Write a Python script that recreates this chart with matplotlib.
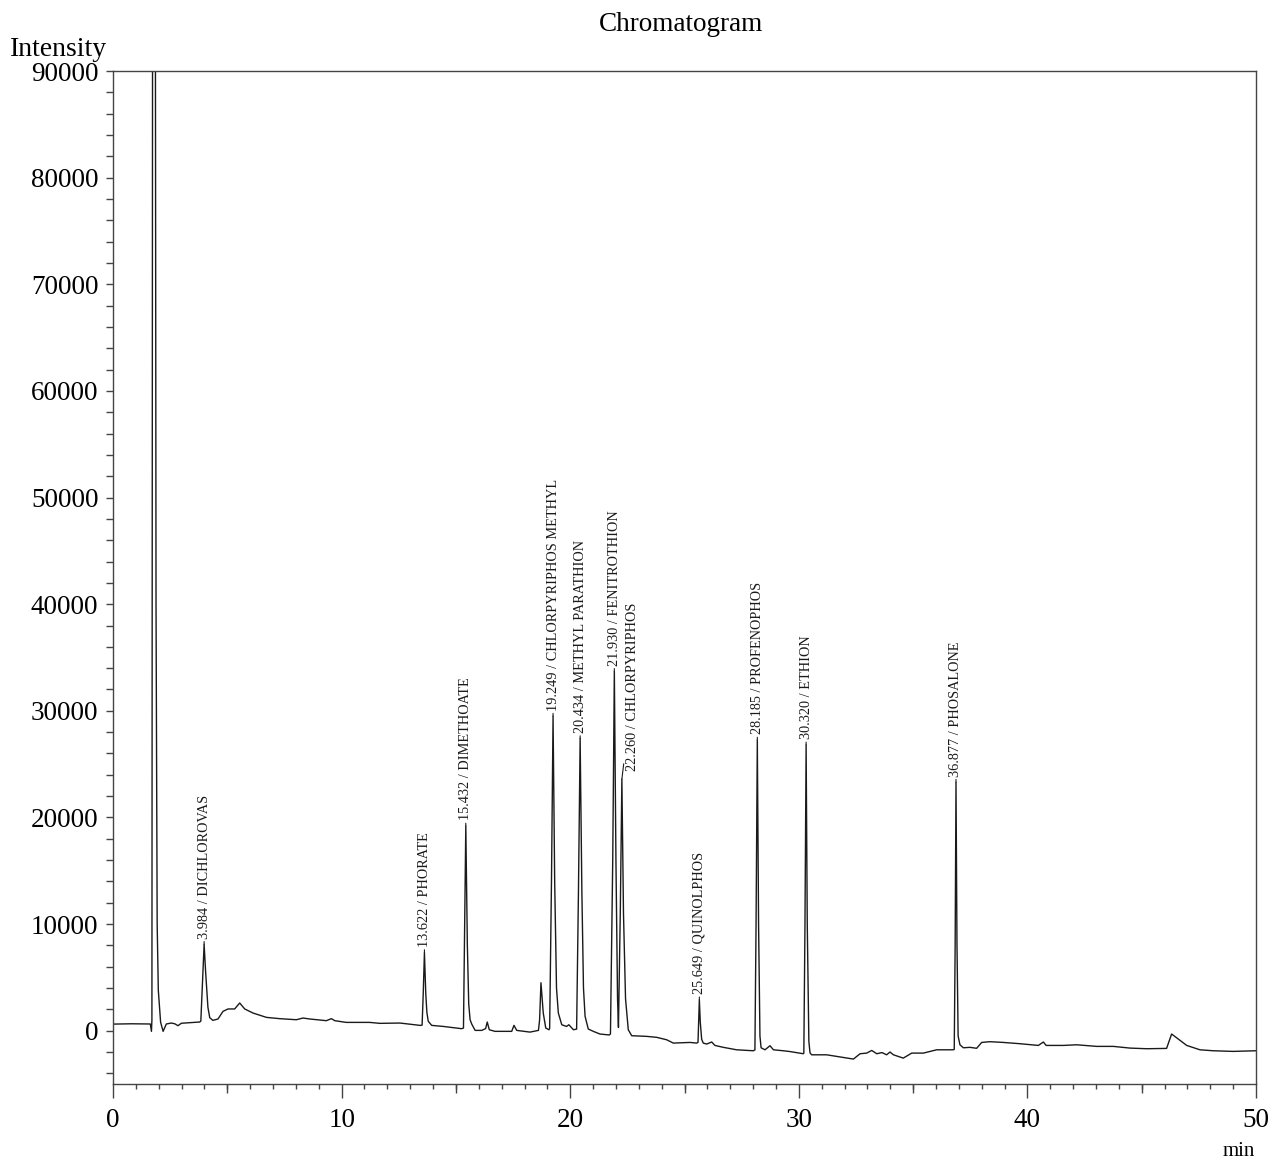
import matplotlib
matplotlib.use('Agg')
import matplotlib.pyplot as plt
from matplotlib.ticker import MultipleLocator, NullFormatter

plt.rcParams['font.family'] = ['Liberation Serif', 'DejaVu Serif']

# chromatogram trace: (retention time in min, intensity)
trace = [
    (0.00, 620), (0.80, 650), (1.30, 640), (1.63, 630), (1.68, -60),
    (1.70, 1000), (1.73, 100000), (1.79, 170000), (1.85, 100000), (1.88, 40000),
    (1.93, 10000), (1.98, 3800), (2.08, 800), (2.19, -60), (2.33, 630),
    (2.55, 720), (2.70, 650), (2.84, 470), (2.99, 700), (3.40, 760), (3.79, 815),
    # dichlorvos
    (3.84, 900), (3.92, 5000), (3.984, 8100), (4.05, 5500), (4.15, 2200),
    (4.23, 1220), (4.37, 970), (4.59, 1100), (4.81, 1815), (5.03, 2040),
    (5.32, 2040), (5.54, 2600), (5.76, 2040), (6.12, 1660), (6.71, 1250),
    (7.29, 1130), (8.02, 1030), (8.31, 1190), (8.60, 1100), (9.33, 940),
    (9.55, 1130), (9.70, 940), (10.20, 780), (11.23, 780), (11.67, 690),
    (12.55, 720), (13.43, 500),
    # phorate
    (13.52, 520), (13.57, 3500), (13.622, 7330), (13.68, 3500), (13.73, 1700),
    (13.79, 880), (13.94, 500), (14.45, 400), (15.25, 190),
    # dimethoate
    (15.33, 250), (15.37, 8000), (15.432, 19200), (15.50, 8000), (15.56, 2500),
    (15.62, 1030), (15.69, 630), (15.84, 30), (16.13, 30), (16.30, 200),
    (16.37, 815), (16.46, 90), (16.71, -60), (17.44, -60), (17.54, 500),
    (17.66, 30), (18.24, -130), (18.61, 30),
    (18.66, 1000), (18.72, 4500), (18.82, 1660), (18.93, 250), (19.07, 90),
    # chlorpyriphos methyl
    (19.10, 200), (19.18, 14000), (19.249, 29500), (19.32, 14000), (19.40, 4000),
    (19.48, 1660), (19.63, 560), (19.84, 400), (19.94, 560), (20.14, 90),
    # methyl parathion
    (20.28, 150), (20.36, 13000), (20.434, 27400), (20.51, 13000), (20.58, 4000),
    (20.65, 1350), (20.79, 160), (21.01, -60), (21.30, -310), (21.71, -400),
    # fenitrothion / chlorpyriphos
    (21.76, -300), (21.86, 16000), (21.93, 33700), (22.00, 16000), (22.07, 3000),
    (22.11, 300), (22.19, 11000), (22.26, 23600), (22.33, 11000), (22.42, 3000),
    (22.54, 90), (22.69, -470), (23.34, -530), (23.78, -620), (24.22, -850),
    (24.51, -1160), (25.24, -1100), (25.53, -1160),
    # quinolphos
    (25.59, -1100), (25.62, 1000), (25.649, 2900), (25.69, 800), (25.75, -800),
    (25.82, -1160), (25.97, -1250), (26.19, -1060), (26.33, -1380), (26.70, -1560),
    (27.28, -1790), (28.01, -1880),
    # profenophos
    (28.08, -1800), (28.13, 10000), (28.185, 27260), (28.24, 10000), (28.30, -500),
    (28.35, -1600), (28.52, -1790), (28.74, -1410), (28.89, -1790), (29.32, -1880),
    (29.60, -1950), (30.20, -2160),
    # ethion
    (30.22, -2100), (30.27, 10000), (30.32, 26800), (30.37, 10000), (30.44, -1000),
    (30.49, -2070), (30.56, -2260), (31.22, -2260), (31.95, -2510), (32.39, -2660),
    (32.68, -2160), (32.97, -2100), (33.19, -1850), (33.41, -2160), (33.64, -2050),
    (33.84, -2260), (33.99, -2000), (34.14, -2260), (34.57, -2570), (34.94, -2100),
    (35.45, -2100), (36.03, -1790), (36.76, -1790),
    # phosalone
    (36.80, -1750), (36.84, 8000), (36.877, 23300), (36.92, 8000), (36.97, -500),
    (37.05, -1320), (37.20, -1600), (37.49, -1560), (37.78, -1650), (38.00, -1100),
    (38.36, -1030), (38.95, -1100), (39.68, -1220), (40.48, -1380), (40.70, -1060),
    (40.82, -1380), (41.57, -1380), (42.16, -1320), (43.03, -1470), (43.76, -1470),
    (44.49, -1630), (45.22, -1690), (46.09, -1660), (46.31, -310), (46.60, -780),
    (46.97, -1380), (47.55, -1790), (48.13, -1880), (49.00, -1940), (50.00, -1880),
]

peak_rt = [3.984, 13.622, 15.432, 19.249, 20.434, 21.930, 22.260,
           25.649, 28.185, 30.320, 36.877]
peak_height = [8100, 7330, 19200, 29500, 27400, 33700, 23600,
               2900, 27260, 26800, 23300]
peak_name = ['DICHLOROVAS', 'PHORATE', 'DIMETHOATE', 'CHLORPYRIPHOS METHYL',
             'METHYL PARATHION', 'FENITROTHION', 'CHLORPYRIPHOS',
             'QUINOLPHOS', 'PROFENOPHOS', 'ETHION', 'PHOSALONE']

rt = [p[0] for p in trace]
signal = [p[1] for p in trace]

fig = plt.figure(figsize=(12.76, 11.61), dpi=100)
ax = fig.add_axes([0.0886, 0.0663, 0.8957, 0.8725])

ax.plot(rt, signal, color='#1a1a1a', lw=1.0)

ax.set_xlim(0, 50)
ax.set_ylim(-5000, 90000)

ax.xaxis.set_major_locator(MultipleLocator(10))
ax.xaxis.set_minor_locator(MultipleLocator(1))
ax.yaxis.set_major_locator(MultipleLocator(10000))
ax.yaxis.set_minor_locator(MultipleLocator(2000))

ax.tick_params(axis='x', which='major', length=10, width=1.0, pad=7,
               labelsize=19.5, color='#444444')
ax.tick_params(axis='x', which='minor', length=3.6, width=1.0, color='#444444')
ax.tick_params(axis='y', which='both', length=5, width=1.0, pad=5.5,
               labelsize=19.5, color='#444444')

# medium ticks every 5 min
sec = ax.secondary_xaxis('bottom')
sec.set_xticks([5, 15, 25, 35, 45])
sec.xaxis.set_major_formatter(NullFormatter())
sec.tick_params(length=6.5, width=1.0, color='#444444')
sec.spines['bottom'].set_visible(False)

for s in ax.spines.values():
    s.set_color('#444444')
    s.set_linewidth(1.0)

for t, h, name in zip(peak_rt, peak_height, peak_name):
    dx = 8 if name == 'CHLORPYRIPHOS' else 0
    dy = 6 if name == 'CHLORPYRIPHOS' else 4
    ax.annotate(f'{t:.3f} / {name}', xy=(t, h), xytext=(dx, dy),
                textcoords='offset points', rotation=90,
                ha='center', va='bottom', fontsize=10.3, color='#1a1a1a',
                arrowprops=dict(arrowstyle='-', color='#1a1a1a', lw=0.8,
                                shrinkA=0, shrinkB=0))

fig.text(681 / 1276, 1 - 31 / 1161, 'Chromatogram', ha='center',
         va='baseline', fontsize=19.5)
fig.text(10 / 1276, 1 - 56 / 1161, 'Intensity', ha='left',
         va='baseline', fontsize=20)
fig.text(1255 / 1276, 1 - 1151 / 1161, 'min', ha='right',
         va='center', fontsize=15)

fig.savefig('out.png', dpi=100)
